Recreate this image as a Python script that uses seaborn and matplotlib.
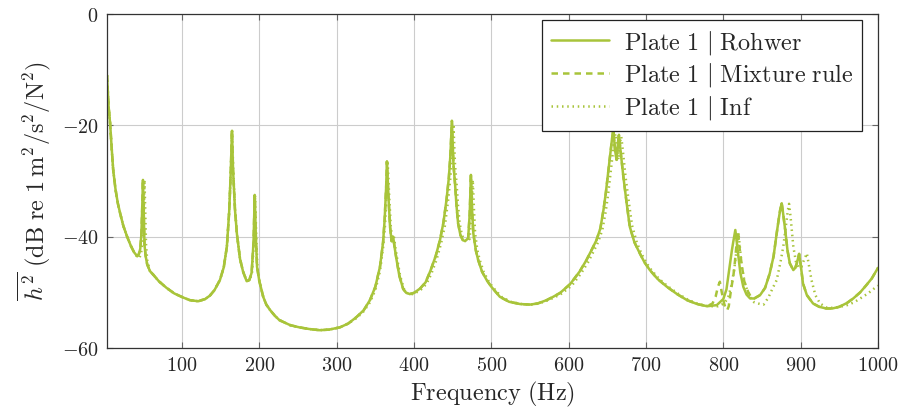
import matplotlib
matplotlib.use("Agg")
import matplotlib.pyplot as plt
import seaborn as sns
import pandas as pd

# ---------------- data ----------------
f_rohwer = [3, 5, 7, 9, 11, 14, 17, 20, 24, 29, 34, 38, 42, 44, 46, 47.5, 48.5, 49.5, 50.5, 51.5,
            53, 55, 58.6, 62.6, 70, 80, 90, 101, 110, 121, 130, 136, 142, 149, 154, 158, 161, 163,
            164.6, 166, 168.5, 171, 175, 179, 183.6, 187, 190, 192.5, 194, 195.5, 197, 200, 205,
            209, 214, 220, 226, 240, 252, 265, 278, 290, 304, 315, 326, 335, 343, 350, 356, 360,
            362, 364, 365, 367, 369, 371, 373, 375, 377.5, 381, 386, 390, 394.5, 400, 408, 415,
            421, 428, 433.6, 438, 442, 445, 447, 449, 451, 453, 455, 457, 460, 463, 466, 470, 472,
            473.6, 475, 476.7, 480, 483, 488, 494, 500, 511, 523, 537, 550, 560, 571.5, 580, 589,
            602, 614, 623, 630, 636, 641, 645, 648, 651, 654, 656, 657.7, 660, 662, 664, 665, 667,
            670.7, 675, 679, 685, 692, 698, 705, 715, 727, 740, 753, 766, 779, 791.5, 800, 804,
            808, 811, 813, 815.5, 817, 819, 822, 825.8, 830, 834.6, 840, 847.5, 854, 860, 865, 869,
            872, 873.5, 875.5, 877, 880, 883, 886, 890.5, 893, 895, 898, 900, 903, 908, 916, 924,
            933, 941, 950, 960, 968, 977, 985, 992, 1000]
h_rohwer = [-11, -16.5, -19.6, -24, -28, -31.5, -34, -35.8, -38, -40, -41.7, -42.8, -43.5, -43.2,
            -42.2, -39.5, -35, -29.8, -36, -41.5, -43.5, -45, -46.2, -46.8, -48, -49.2, -50.2,
            -50.9, -51.4, -51.6, -51.2, -50.6, -49.6, -47.8, -45.5, -41.8, -35.5, -28.5, -21, -28,
            -35.2, -39.5, -44, -46.3, -48, -47.8, -46.5, -41, -32.5, -40, -45.4, -48, -50.8, -52.2,
            -53.2, -54.2, -55, -55.9, -56.3, -56.6, -56.8, -56.7, -56.3, -55.6, -54.4, -53.2,
            -51.4, -49, -45.4, -41, -37, -31, -26.5, -33, -38.2, -40.8, -40, -42, -44.2, -47,
            -49.4, -50.1, -50.3, -50.1, -49.3, -48.2, -46.2, -43.5, -40.6, -37.5, -33.4, -29.5,
            -25.5, -19.2, -27, -30.4, -34.5, -37.6, -39.7, -40.6, -40.8, -40.3, -36, -28.9, -35,
            -39.4, -42.5, -44.2, -46.3, -47.8, -49, -50.8, -51.7, -52.1, -52.2, -52, -51.4, -50.8,
            -50.1, -48.5, -46.3, -44.2, -42.3, -40.6, -38.5, -35.2, -32.2, -28.6, -25, -22.5,
            -20.8, -24.5, -26.2, -22.8, -21.7, -24.5, -29.2, -34, -38.2, -41, -43, -44.6, -46,
            -47.6, -49, -50.3, -51.4, -52.1, -52.5, -52.3, -51.2, -49.5, -45.5, -42.5, -40.8,
            -38.8, -40.5, -43, -46.5, -49, -50.4, -51.1, -51.1, -50.5, -49.2, -46.6, -43.5, -39.4,
            -36.5, -35.2, -34, -35.5, -38.8, -42.5, -44.8, -46, -45.6, -44.8, -43.1, -45, -48.4,
            -50.5, -52, -52.6, -52.9, -52.9, -52.6, -51.9, -51.1, -50, -48.7, -47.5, -45.6]

f_mixture = [3, 5, 7, 9, 11, 14, 17, 20, 24, 29, 34, 38, 42, 44, 46, 47.5, 48.5, 49.5, 50.5, 51.5,
             53, 55, 58.6, 62.6, 70, 80, 90, 101, 110, 121, 130, 136, 142, 149, 154, 158, 161, 163,
             164.6, 166, 168.5, 171, 175, 179, 183.6, 187, 190, 192.5, 194, 195.5, 197, 200, 205,
             209, 214, 220, 226, 240, 252, 265, 278, 290, 304, 315, 326, 335, 343, 350, 356, 360,
             362, 364, 365, 367, 369, 371, 373, 375, 377.5, 381, 386, 390, 394.5, 400, 408, 415,
             421, 428, 433.6, 438, 442, 445, 447, 449, 451, 453, 455, 457, 460, 463, 466, 470, 472,
             473.6, 475, 476.7, 480, 483, 488, 494, 500, 511, 523, 537, 550, 560, 571.5, 580, 589,
             602, 614, 623, 630, 636, 641, 645, 648, 651, 654, 656, 657.7, 660, 662, 664, 665, 667,
             670.7, 675, 679, 685, 692, 698, 705, 715, 727, 740, 753, 766, 779, 786, 790, 793,
             795.5, 798, 801, 803, 805, 807, 810, 813, 815, 817, 819, 821, 823.7, 827, 832, 836,
             840, 847.5, 854, 860, 865, 869, 872, 873.5, 875.5, 877, 880, 883, 886, 890.5, 893,
             895, 898, 900, 903, 908, 916, 924, 933, 941, 950, 960, 968, 977, 985, 992, 1000]
h_mixture = [-11, -16.5, -19.6, -24, -28, -31.5, -34, -35.8, -38, -40, -41.7, -42.8, -43.5, -43.2,
             -42.2, -39.5, -35, -29.8, -36, -41.5, -43.5, -45, -46.2, -46.8, -48, -49.2, -50.2,
             -50.9, -51.4, -51.6, -51.2, -50.6, -49.6, -47.8, -45.5, -41.8, -35.5, -28.5, -21, -28,
             -35.2, -39.5, -44, -46.3, -48, -47.8, -46.5, -41, -32.5, -40, -45.4, -48, -50.8, -52.2,
             -53.2, -54.2, -55, -55.9, -56.3, -56.6, -56.8, -56.7, -56.3, -55.6, -54.4, -53.2,
             -51.4, -49, -45.4, -41, -37, -31, -26.5, -33, -38.2, -40.8, -40, -42, -44.2, -47,
             -49.4, -50.1, -50.3, -50.1, -49.3, -48.2, -46.2, -43.5, -40.6, -37.5, -33.4, -29.5,
             -25.5, -19.2, -27, -30.4, -34.5, -37.6, -39.7, -40.6, -40.8, -40.3, -36, -28.9, -35,
             -39.4, -42.5, -44.2, -46.3, -47.8, -49, -50.8, -51.7, -52.1, -52.2, -52, -51.4, -50.8,
             -50.1, -48.5, -46.3, -44.2, -42.3, -40.6, -38.5, -35.2, -32.2, -28.6, -25, -22.5,
             -20.8, -24.5, -26.2, -22.8, -21.7, -24.5, -29.2, -34, -38.2, -41, -43, -44.6, -46,
             -47.6, -49, -50.3, -51.4, -52.1, -52.5, -52.0, -50.8, -49, -48.1, -50, -52, -52.9,
             -53.2, -52.5, -49.5, -47, -44.5, -41.5, -39.1, -42, -45, -48, -49.9, -50.9, -51.1,
             -50.5, -49.2, -46.6, -43.5, -39.4, -36.5, -35.2, -34, -35.5, -38.8, -42.5, -44.8, -46,
             -45.6, -44.8, -43.1, -45, -48.4, -50.5, -52, -52.6, -52.9, -52.9, -52.6, -51.9, -51.1,
             -50, -48.7, -47.5, -45.6]

f_inf = [3, 5, 7, 9, 11, 14, 17, 20, 24, 29, 34, 38, 42, 45, 47, 49, 50.5, 51.5, 52.5, 53.5, 55,
         58.6, 62.6, 70, 80, 90, 101, 110, 121, 130, 136, 142, 149, 154, 158, 161, 163, 164.8,
         166.2, 168.7, 171, 175, 179, 183.6, 187.5, 190.5, 193, 194.5, 196, 197.5, 200, 205, 209,
         214, 220, 226, 240, 252, 265, 278, 290, 304, 315, 326, 335, 343, 350, 356, 360, 362.5,
         364.5, 366, 368, 370, 372, 374, 376, 378.5, 382, 387, 391, 395.5, 401, 409, 416, 422,
         429, 435, 440, 444, 447, 449, 451, 453, 455, 457, 459, 462, 465, 468, 472, 474, 476,
         477.5, 479, 482, 485, 490, 496, 502, 513, 525, 539, 552, 562, 573.5, 582, 591, 604, 616,
         625, 632, 638, 643.5, 648, 651, 654, 657, 659, 660.5, 662.5, 664.5, 666.5, 668, 670,
         673.5, 678, 682, 688, 694, 700, 707, 717, 729, 742, 755, 768, 781, 793, 801, 806, 810,
         814, 817, 819.5, 821.5, 824, 828, 834, 840, 847.5, 852, 858, 864, 869, 874, 877.5, 881,
         883.5, 885, 887, 890.5, 894, 898, 901, 904, 908, 910.5, 914, 919, 925, 933, 942, 951,
         960, 969, 977, 987, 996, 1000]
h_inf = [-11, -16.5, -19.6, -24, -28, -31.5, -34, -35.8, -38, -40, -41.7, -42.8, -43.6, -43.8, -43,
         -41, -36.5, -29.8, -36, -41.5, -44.2, -46.2, -46.8, -48, -49.2, -50.2, -50.9, -51.4,
         -51.6, -51.2, -50.6, -49.6, -47.8, -45.5, -41.8, -35.5, -28.5, -21, -28, -35.2, -39.5,
         -44, -46.3, -48, -47.8, -46.5, -41, -32.5, -40, -45.4, -48, -50.8, -52.2, -53.2, -54.2,
         -55, -55.9, -56.3, -56.6, -56.8, -56.7, -56.3, -55.6, -54.6, -53.4, -51.8, -49.6, -46.2,
         -42, -38, -32, -26.8, -33, -38.2, -40.8, -40, -42, -44.2, -47, -49.4, -50.1, -50.4,
         -50.2, -49.5, -48.5, -46.8, -44.2, -41.2, -38, -33.6, -29.5, -25.5, -19.8, -27, -30.4,
         -34.5, -37.6, -39.7, -40.6, -40.9, -40.4, -36, -29.8, -35, -39.4, -42.5, -44.2, -46.3,
         -47.9, -49.1, -50.8, -51.7, -52.1, -52.2, -52, -51.4, -50.9, -50.2, -48.8, -46.6, -44.6,
         -42.7, -41, -38.8, -35.4, -32.4, -28.8, -25, -22.5, -21.5, -24.5, -26.2, -23, -22, -24.5,
         -29.2, -34, -38, -41, -43, -44.6, -46, -47.6, -49, -50.3, -51.4, -52.1, -52.5, -52.5,
         -52, -51, -49, -46, -42.5, -39.3, -42, -45.5, -48.5, -50.8, -51.8, -52.1, -52.2, -51,
         -49.2, -47.8, -44.5, -41.8, -38, -35.2, -34.1, -36.5, -41.8, -44.6, -45.6, -45.4, -44.3,
         -43, -45, -47.8, -50.5, -52, -52.7, -52.8, -52.6, -52.3, -51.8, -51.1, -50.2, -49.2,
         -48.8]

series_labels = [r"$\mathrm{Plate\ 1\ |\ Rohwer}$",
                 r"$\mathrm{Plate\ 1\ |\ Mixture\ rule}$",
                 r"$\mathrm{Plate\ 1\ |\ Inf}$"]
x_ticks = [100, 200, 300, 400, 500, 600, 700, 800, 900, 1000]
y_ticks = [0, -20, -40, -60]

# ---------------- style ----------------
sns.set_theme(style="white")
plt.rcParams["mathtext.fontset"] = "cm"
plt.rcParams["font.family"] = ["DejaVu Serif"]

color = "#a8c43a"
lw = 1.8
fs_tick = 14.5
fs_text = 17.5

fig = plt.figure(figsize=(9.12, 4.15), dpi=100)
ax = fig.add_axes([107 / 912, 1 - 348 / 415, (878 - 107) / 912, (348 - 14) / 415])

df_r = pd.DataFrame({"f": f_rohwer, "h": h_rohwer})
df_m = pd.DataFrame({"f": f_mixture, "h": h_mixture})
df_i = pd.DataFrame({"f": f_inf, "h": h_inf})

sns.lineplot(data=df_r, x="f", y="h", ax=ax, color=color, lw=lw, estimator=None,
             sort=False, label=series_labels[0])
sns.lineplot(data=df_m, x="f", y="h", ax=ax, color=color, lw=lw, estimator=None,
             sort=False, label=series_labels[1])
sns.lineplot(data=df_i, x="f", y="h", ax=ax, color=color, lw=lw, estimator=None,
             sort=False, label=series_labels[2])
ax.lines[1].set_dashes((2.6, 2.0))
ax.lines[2].set_dashes((0.6, 1.5))

ax.set_xlim(3, 1000)
ax.set_ylim(-60, 0)
ax.set_xticks(x_ticks)
ax.set_xticklabels([rf"${t}$" for t in x_ticks], fontsize=fs_tick)
ax.set_yticks(y_ticks)
ax.set_yticklabels([rf"${t}$" if t >= 0 else rf"$-{abs(t)}$" for t in y_ticks], fontsize=fs_tick)
ax.grid(True, color="#cccccc", lw=0.8)
ax.tick_params(direction="in", length=4, width=0.8, color="#666666",
               top=True, right=True, bottom=True, left=True, pad=6)
for s in ax.spines.values():
    s.set_color("#333333")
    s.set_linewidth(0.9)

ax.set_xlabel(r"$\mathrm{Frequency\ (Hz)}$", fontsize=fs_text, labelpad=3)
ax.set_ylabel(r"$\overline{h^2}\ \mathrm{(dB\ re\ 1\,m^2/s^2/N^2)}$", fontsize=fs_text, labelpad=6)

leg = ax.legend(loc="upper right", bbox_to_anchor=(862 / 912, 1 - 20 / 415),
                bbox_transform=fig.transFigure, borderaxespad=0, fontsize=fs_text,
                frameon=True, fancybox=False, edgecolor="#222222", framealpha=1,
                handlelength=2.4, labelspacing=0.2, borderpad=0.35, handletextpad=0.6)
leg.get_frame().set_linewidth(0.9)

fig.savefig("out.png", dpi=100)
